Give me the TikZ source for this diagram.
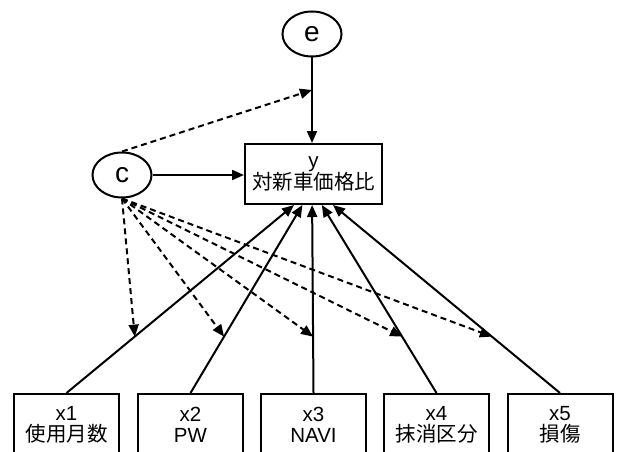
\documentclass[tikz,border=0pt]{standalone}
\usepackage{fontspec}
\setmainfont{Liberation Sans}
\newfontfamily\jp{Noto Sans CJK JP}
\usetikzlibrary{arrows.meta,calc,shapes.geometric}

\begin{document}
\begin{tikzpicture}[x=1pt, y=-1pt, line width=2pt,
    latent/.style={draw, ellipse, minimum width=59pt, minimum height=45pt, inner sep=0pt, font=\fontsize{28}{28}\selectfont},
    obs/.style={draw, rectangle, align=center, inner sep=0pt, font=\fontsize{20.5}{21}\selectfont},
    effect/.style={-{Triangle[length=12pt,width=10pt]}},
    moderate/.style={effect, dash pattern=on 6pt off 4pt}]
  \useasboundingbox (0,0) rectangle (621,452);

  % latent variables
  \node[latent] (e) at (312,34) {e};
  \node[latent] (c) at (122,175) {c};

  % outcome
  \node[obs, minimum width=137pt, minimum height=60pt] (y) at (313.5,174) {y\\{\jp 対新車価格比}};

  % predictors
  \foreach \i/\xpos/\txt in {1/66.5/{\jp 使用月数}, 2/190.5/PW, 3/313.5/NAVI, 4/436.5/{\jp 抹消区分}, 5/560/{\jp 損傷}}
    \node[obs, minimum width=105pt, minimum height=62pt] (x\i) at (\xpos,425) {x\i\\\txt};

  % error and c into y
  \coordinate (t0) at (e.south |- y.north);
  \draw[effect] (e.south) -- (t0);
  \draw[effect] (c.east) -- (c.east -| y.west);
  \coordinate (m0) at ($(e.south)!0.38!(t0)$);
  \draw[moderate] (c.north) -- (m0);

  % paths x_i -> y, moderated by c
  \foreach \i/\f in {1/0.36, 2/0.42, 3/0.49, 4/0.56, 5/0.64} {
    \coordinate (t\i) at ($(y.south west)!\f!(y.south east)$);
    \coordinate (m\i) at ($(x\i.north)!0.3!(t\i)$);
    \draw[effect] (x\i.north) -- (t\i);
    \draw[moderate] (c.south) -- (m\i);
  }
\end{tikzpicture}
\end{document}
